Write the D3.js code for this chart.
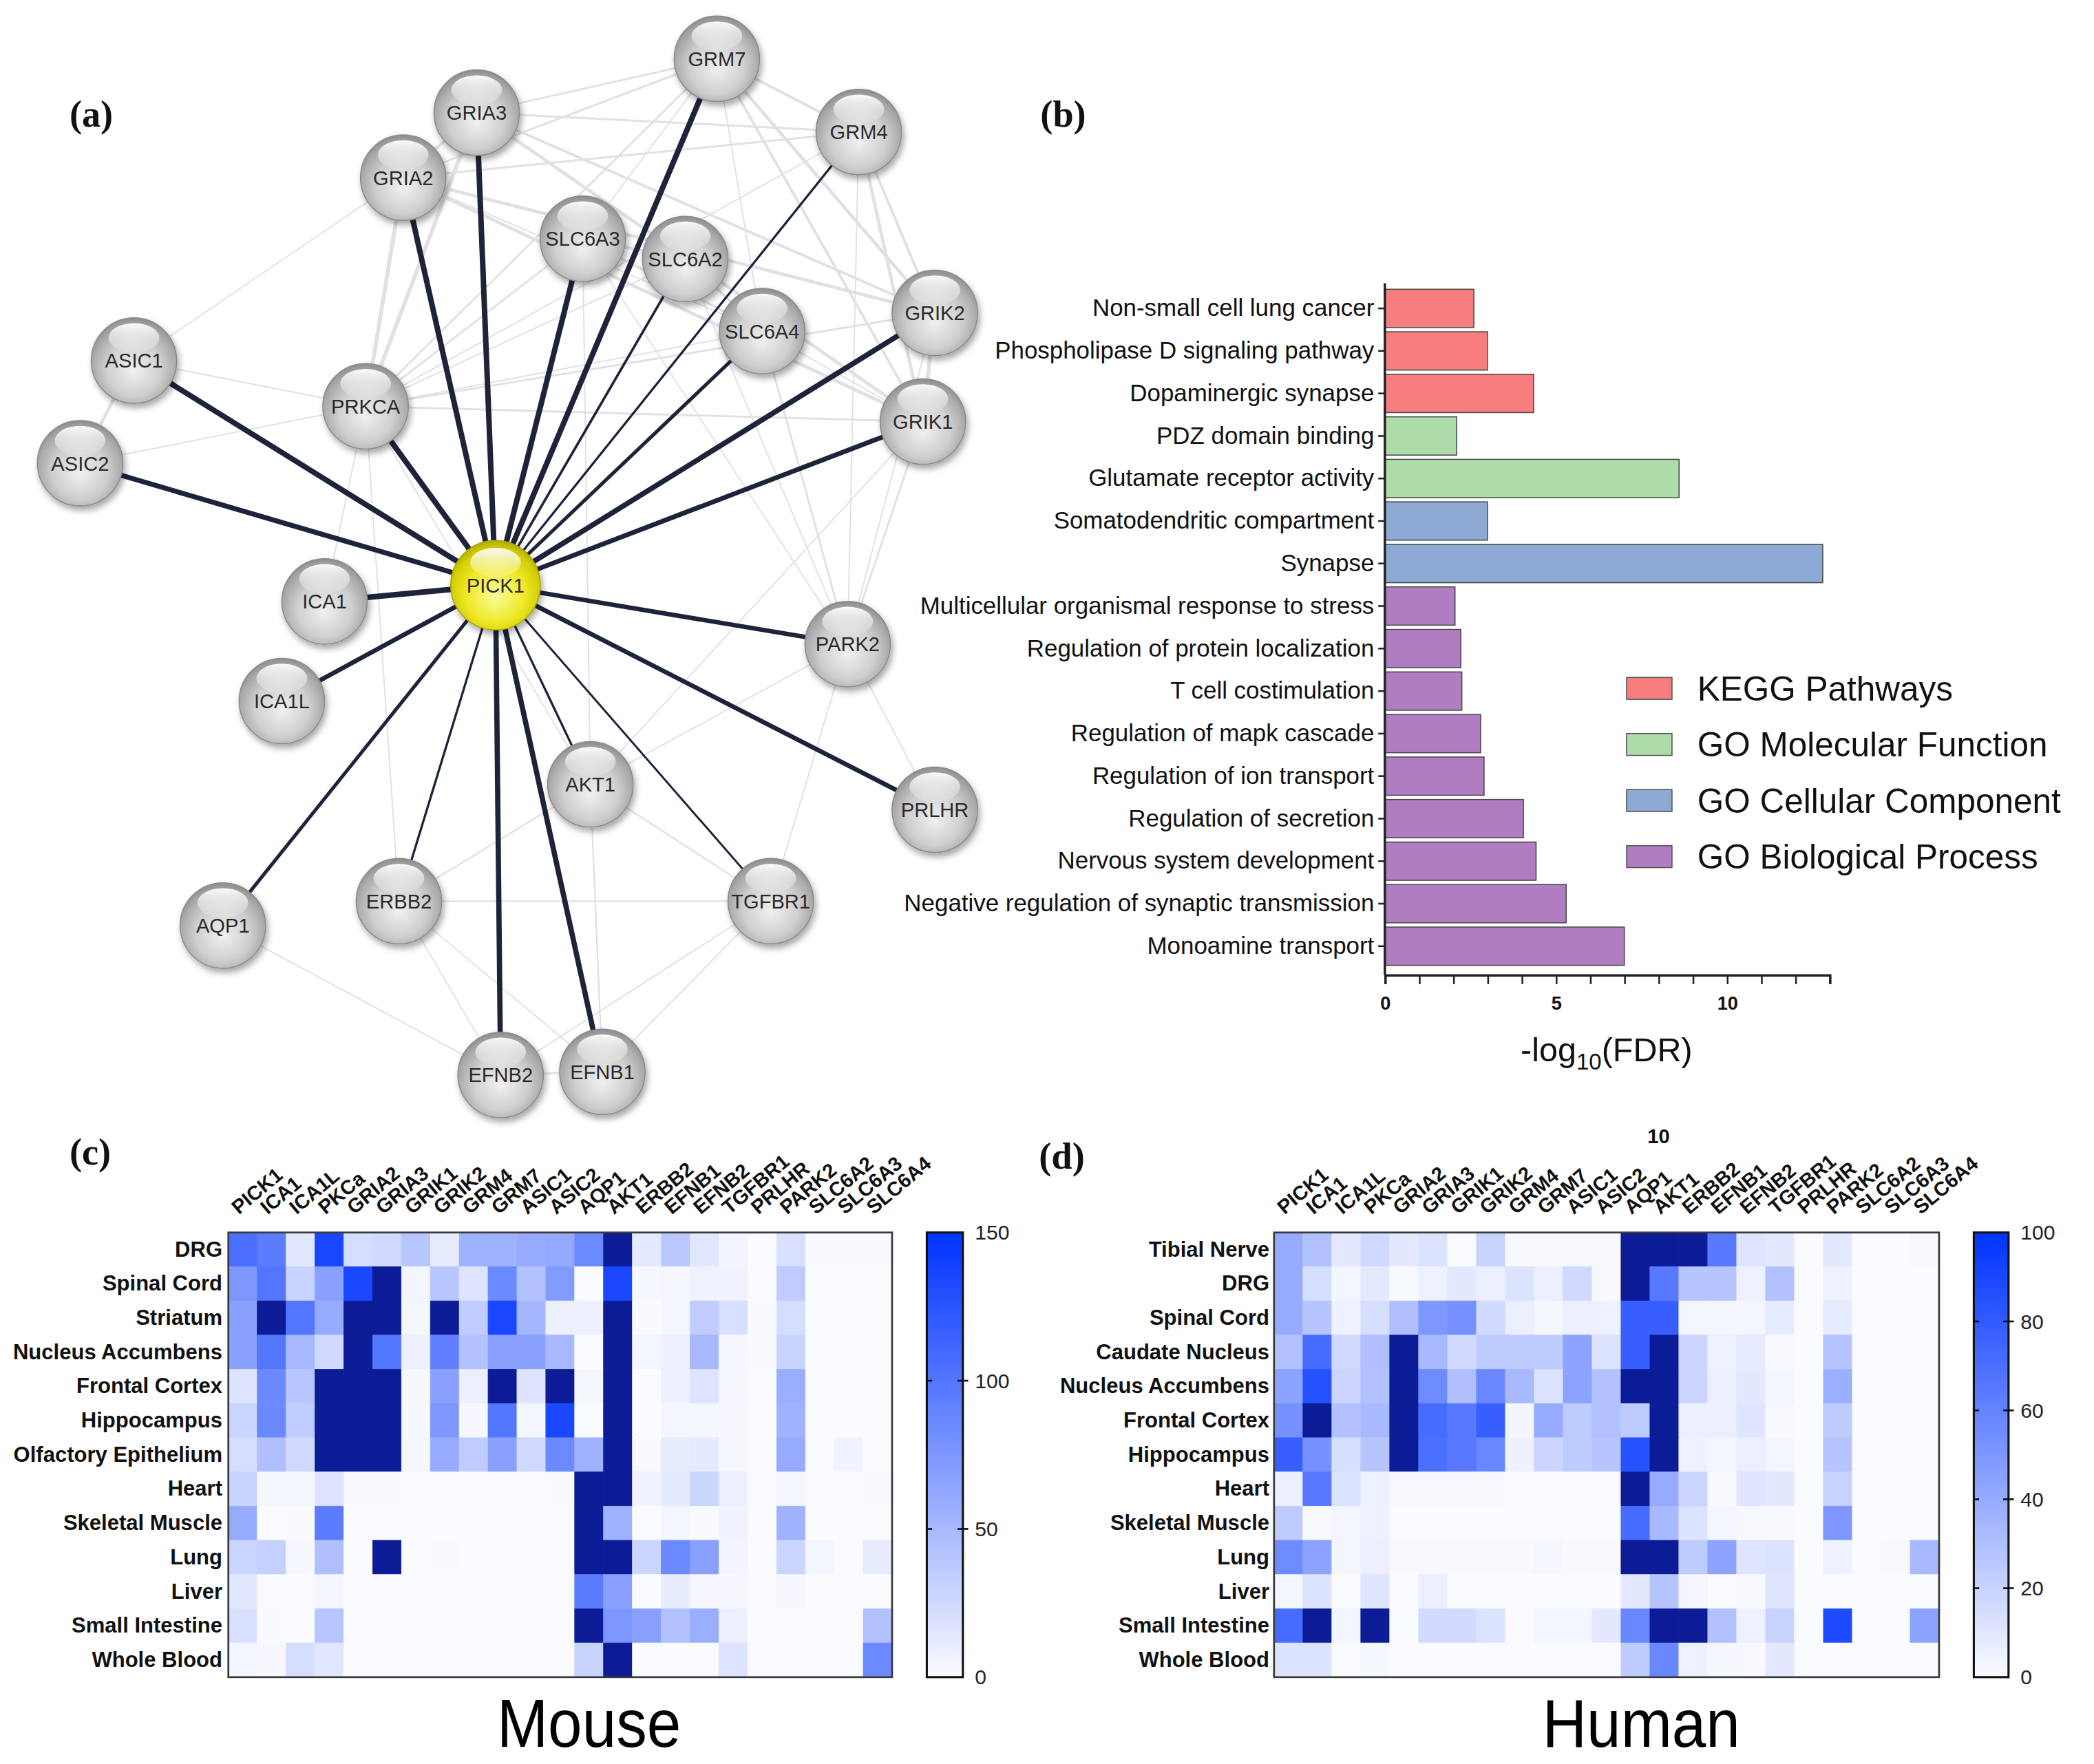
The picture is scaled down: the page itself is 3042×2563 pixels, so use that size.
<!DOCTYPE html>
<html>
<head>
<meta charset="utf-8">
<script src="https://cdn.jsdelivr.net/npm/d3@7"></script>
<style>
  body { margin: 0; background: #fff; }
  svg { display: block; }
</style>
</head>
<body>
<svg id="fig" width="3042" height="2563" viewBox="0 0 1568 1321"></svg>
<script>
// ---------- data ----------
// (a) network: node names and layout position (0-100 layout units)
var netNodes = ["GRM7","GRIA3","GRM4","GRIA2","SLC6A3","SLC6A2","GRIK2","SLC6A4","ASIC1","PRKCA","GRIK1","ASIC2",
                "PICK1","ICA1","PARK2","ICA1L","AKT1","PRLHR","ERBB2","TGFBR1","AQP1","EFNB2","EFNB1"];
var netX = [74.5,46.4,91.1,37.8,58.8,70.8,100,79.8,6.3,33.4,98.6,0,48.6,28.6,89.8,23.6,59.7,100,37.3,80.8,16.7,49.2,61.1];
var netY = [0,5.3,7.2,11.7,17.7,19.7,25.0,26.8,29.7,34.2,35.7,39.8,51.8,53.4,57.6,63.2,71.4,73.9,82.9,82.9,85.3,100,99.7];
// interaction score of PICK1 with each partner
var pickPartners = ["GRM7","GRIA3","GRM4","GRIA2","SLC6A3","SLC6A2","GRIK2","SLC6A4","ASIC1","PRKCA","GRIK1","ASIC2",
                    "ICA1","PARK2","ICA1L","AKT1","PRLHR","ERBB2","TGFBR1","AQP1","EFNB2","EFNB1"];
var pickScore = [0.95,0.95,0.3,0.95,0.95,0.35,0.9,0.55,0.95,0.95,0.8,0.85,0.95,0.75,0.75,0.3,0.75,0.3,0.25,0.55,0.9,0.9];
// other (background) interactions: [a, b, weight]
var bgEdges = [
  ["ASIC1","ASIC2",2.5],["ASIC1","PRKCA",1],["ASIC2","PRKCA",1],["ASIC1","GRIA2",1],
  ["GRIA2","GRIA3",2],["GRIA2","PRKCA",3],["GRIA3","PRKCA",3],["GRIA2","GRM7",1.5],["GRIA2","GRM4",1.5],
  ["GRIA2","GRIK2",2.5],["GRIA2","GRIK1",2.5],["GRIA2","SLC6A4",1],
  ["GRIA3","GRM7",1.5],["GRIA3","GRM4",1.5],["GRIA3","GRIK2",2],["GRIA3","GRIK1",2.5],
  ["GRM7","GRM4",2],["GRM7","GRIK2",2.5],["GRM7","GRIK1",2],["GRM7","SLC6A3",1],["GRM7","SLC6A4",1],["GRM7","PRKCA",1.5],
  ["GRM4","GRIK2",2],["GRM4","GRIK1",2.5],["GRM4","PARK2",1],["GRM4","PRKCA",1],
  ["GRIK2","GRIK1",3],["PRKCA","GRIK2",1.5],["PRKCA","GRIK1",1.5],["PRKCA","SLC6A3",1.5],["PRKCA","SLC6A2",1],["PRKCA","SLC6A4",1],
  ["SLC6A3","SLC6A2",2],["SLC6A3","SLC6A4",2],["SLC6A2","SLC6A4",2],["SLC6A3","PARK2",1],["SLC6A2","PARK2",1],
  ["SLC6A4","PARK2",1.5],["SLC6A4","GRIK1",1],
  ["GRIK1","PARK2",1.5],["GRIK2","PARK2",1],["PARK2","PRLHR",1],["PARK2","TGFBR1",1],["PARK2","AKT1",1],
  ["AKT1","PRKCA",1],["AKT1","SLC6A3",1],["AKT1","ERBB2",1.2],["AKT1","TGFBR1",1.2],["AKT1","EFNB1",1.2],["AKT1","GRIK1",1],
  ["ERBB2","TGFBR1",1.2],["ERBB2","EFNB1",1],["ERBB2","EFNB2",1],["TGFBR1","EFNB1",1],["TGFBR1","EFNB2",1],
  ["EFNB1","EFNB2",1.5],["AQP1","EFNB2",1],["PRKCA","ICA1",1],["ERBB2","PRKCA",1]
];

// (b) enrichment
var terms = ["Non-small cell lung cancer","Phospholipase D signaling pathway","Dopaminergic synapse","PDZ domain binding",
  "Glutamate receptor activity","Somatodendritic compartment","Synapse","Multicellular organismal response to stress",
  "Regulation of protein localization","T cell costimulation","Regulation of mapk cascade","Regulation of ion transport",
  "Regulation of secretion","Nervous system development","Negative regulation of synaptic transmission","Monoamine transport"];
var termScore = [2.6,3.0,4.35,2.1,8.6,3.0,12.8,2.05,2.22,2.25,2.8,2.9,4.05,4.42,5.3,7.0];
var termGroup = [0,0,0,1,1,2,2,3,3,3,3,3,3,3,3,3];
var groups = ["KEGG Pathways","GO Molecular Function","GO Cellular Component","GO Biological Process"];
var groupColor = ["#f87d7e","#aedcaa","#8daad5","#b07dc1"];
var fdrTicks = [0,5,10];

// (c)/(d) expression heatmaps
var heatGenes = ["PICK1","ICA1","ICA1L","PKCa","GRIA2","GRIA3","GRIK1","GRIK2","GRM4","GRM7","ASIC1","ASIC2",
                 "AQP1","AKT1","ERBB2","EFNB1","EFNB2","TGFBR1","PRLHR","PARK2","SLC6A2","SLC6A3","SLC6A4"];
var mouseTissues = ["DRG","Spinal Cord","Striatum","Nucleus Accumbens","Frontal Cortex","Hippocampus","Olfactory Epithelium",
                    "Heart","Skeletal Muscle","Lung","Liver","Small Intestine","Whole Blood"];
var mouseExpr = [
  [105,95,15,135,22,25,40,11,55,55,60,62,85,200,13,38,15,5,0,20,1,1,1],
  [75,100,30,68,135,200,4,40,17,85,43,72,0,135,2,3,6,6,0,35,0,0,0],
  [68,200,100,60,200,200,3,200,35,135,52,8,8,200,1,4,35,20,1,22,0,0,0],
  [68,100,50,25,200,100,8,92,43,68,68,50,0,200,4,8,50,2,1,30,0,0,0],
  [17,85,40,200,200,200,2,68,9,200,17,200,3,200,0,8,17,2,0,58,0,0,0],
  [28,85,35,200,200,200,2,75,2,100,4,135,0,200,0,4,3,2,0,55,0,0,0],
  [22,45,25,200,200,200,3,60,35,68,25,85,55,200,1,11,13,2,0,60,0,6,0],
  [30,3,3,17,1,1,0,0,0,0,0,1,200,200,6,13,28,9,0,4,0,0,1],
  [60,0,1,95,0,0,0,0,0,0,0,0,200,55,0,4,1,6,0,55,0,0,0],
  [28,32,2,45,0,200,0,1,0,0,0,0,200,200,28,85,68,5,0,28,4,0,11],
  [15,0,0,4,0,0,0,0,0,0,0,0,95,68,0,11,2,2,0,2,0,0,0],
  [20,1,0,40,0,0,0,0,0,0,0,0,200,75,68,43,58,8,0,0,0,0,43],
  [4,2,22,15,0,0,0,0,0,0,0,0,30,200,0,0,0,17,0,0,0,0,85]
];
var mouseTicks = [0,50,100,150];
var humanTissues = ["Tibial Nerve","DRG","Spinal Cord","Caudate Nucleus","Nucleus Accumbens","Frontal Cortex","Hippocampus",
                    "Heart","Skeletal Muscle","Lung","Liver","Small Intestine","Whole Blood"];
var humanExpr = [
  [40,29,9,17,9,12,0,20,1,1,1,1,130,130,130,65,11,9,0,9,0,0,1],
  [40,14,3,9,1,5,9,6,12,6,17,1,130,65,27,27,5,29,0,5,0,0,0],
  [40,27,5,14,30,50,53,17,6,2,6,5,78,78,3,3,3,8,0,8,0,0,0],
  [29,72,17,30,130,33,17,24,24,24,44,12,78,130,19,5,8,1,0,27,0,0,0],
  [44,85,19,29,130,56,30,58,33,12,44,29,130,130,19,6,9,3,0,38,0,0,0],
  [53,130,29,33,130,72,65,78,3,40,24,29,24,130,6,6,11,1,0,24,0,0,0],
  [78,53,14,27,130,70,65,58,5,19,24,27,85,130,5,3,6,3,0,27,0,0,0],
  [6,65,12,5,1,1,1,1,0,0,0,0,130,40,19,1,11,9,0,20,0,0,0],
  [24,1,3,5,0,0,0,0,0,0,0,0,72,33,12,3,1,1,0,50,0,0,0],
  [56,44,3,6,1,1,1,1,1,2,1,1,130,130,24,44,11,12,0,5,0,1,33],
  [3,12,0,11,0,6,0,0,0,0,0,0,9,27,3,0,1,11,0,0,0,0,0],
  [72,130,3,130,0,16,16,12,0,3,3,9,58,130,130,29,5,20,0,88,0,0,44],
  [12,12,0,2,0,0,0,0,0,0,0,0,24,58,5,2,1,9,0,0,0,0,0]
];
var humanTicks = [0,20,40,60,80,100];

// ---------- drawing ----------
var SANS = "'Liberation Sans', Arial, Helvetica, sans-serif";
var SERIF = "'Liberation Serif', 'Times New Roman', serif";
var svg = d3.select("#fig");
var defs = svg.append("defs");

// panel letters
[["(a)",52,95],["(b)",779,95],["(c)",52,872],["(d)",778,875]].forEach(function (p) {
  svg.append("text").text(p[0]).attr("x", p[1]).attr("y", p[2])
    .attr("font-family", SERIF).attr("font-weight", "bold").attr("font-size", 28).attr("fill", "#111");
});

// ===== (a) network =====
var shadow = defs.append("filter").attr("id", "shadow")
  .attr("x", "-40%").attr("y", "-40%").attr("width", "180%").attr("height", "180%");
shadow.append("feDropShadow").attr("dx", 1.5).attr("dy", 3).attr("stdDeviation", 2.5)
  .attr("flood-color", "#000").attr("flood-opacity", 0.35);

function sphereGrad(id, stops) {
  var g = defs.append("radialGradient").attr("id", id)
    .attr("cx", "50%").attr("cy", "58%").attr("r", "58%").attr("fx", "50%").attr("fy", "62%");
  stops.forEach(function (s) { g.append("stop").attr("offset", s[0]).attr("stop-color", s[1]); });
}
sphereGrad("gray", [[0, "#f0f0f0"], [0.55, "#cfcfcf"], [0.85, "#a9a9a9"], [1, "#8d8d8d"]]);
sphereGrad("yellow", [[0, "#fbfb9c"], [0.55, "#efe92a"], [0.85, "#d4ce06"], [1, "#b0aa00"]]);
var hl = defs.append("linearGradient").attr("id", "hl").attr("x1", 0).attr("y1", 0).attr("x2", 0).attr("y2", 1);
hl.append("stop").attr("offset", 0).attr("stop-color", "#fff").attr("stop-opacity", 0.95);
hl.append("stop").attr("offset", 1).attr("stop-color", "#fff").attr("stop-opacity", 0.1);

var nx = d3.scaleLinear().domain([0, 100]).range([60, 700]);
var ny = d3.scaleLinear().domain([0, 100]).range([44, 805]);
var nodePos = {};
netNodes.forEach(function (n, i) { nodePos[n] = [nx(netX[i]), ny(netY[i])]; });
var edgeW = d3.scaleLinear().domain([0, 1]).range([0.6, 4.3]);

var gNet = svg.append("g");
gNet.selectAll("line.bg").data(bgEdges).enter().append("line")
  .attr("x1", function (d) { return nodePos[d[0]][0]; }).attr("y1", function (d) { return nodePos[d[0]][1]; })
  .attr("x2", function (d) { return nodePos[d[1]][0]; }).attr("y2", function (d) { return nodePos[d[1]][1]; })
  .attr("stroke", "#e1e1e5").attr("stroke-width", function (d) { return d[2]; });
gNet.selectAll("line.pk").data(pickPartners).enter().append("line")
  .attr("x1", nodePos.PICK1[0]).attr("y1", nodePos.PICK1[1])
  .attr("x2", function (d) { return nodePos[d][0]; }).attr("y2", function (d) { return nodePos[d][1]; })
  .attr("stroke", "#1d2339").attr("stroke-width", function (d, i) { return edgeW(pickScore[i]); });

var node = gNet.selectAll("g.node").data(netNodes).enter().append("g")
  .attr("transform", function (d) { return "translate(" + nodePos[d][0] + "," + nodePos[d][1] + ")"; });
node.append("circle").attr("r", function (d) { return d === "PICK1" ? 33.5 : 32; })
  .attr("fill", function (d) { return d === "PICK1" ? "url(#yellow)" : "url(#gray)"; })
  .attr("stroke", function (d) { return d === "PICK1" ? "#a8a200" : "#8a8a8a"; }).attr("stroke-width", 0.8)
  .attr("filter", "url(#shadow)");
node.append("ellipse").attr("cx", 0).attr("cy", -17).attr("rx", 19).attr("ry", 11).attr("fill", "url(#hl)");
node.append("text").text(function (d) { return d; })
  .attr("text-anchor", "middle").attr("dy", "0.36em")
  .attr("font-family", SANS).attr("font-size", 15).attr("fill", "#2a2a2a");

// ===== (b) enrichment bar chart =====
var bx = d3.scaleLinear().domain([0, 13]).range([1037, 1370]);
var by = d3.scaleBand().domain(terms).range([215, 724.5]).paddingInner(0.1).paddingOuter(0.05);
var gBar = svg.append("g");
gBar.selectAll("rect").data(terms).enter().append("rect")
  .attr("x", bx(0)).attr("y", function (d) { return by(d); })
  .attr("width", function (d, i) { return bx(termScore[i]) - bx(0); })
  .attr("height", by.bandwidth())
  .attr("fill", function (d, i) { return groupColor[termGroup[i]]; })
  .attr("stroke", "#4a4a4a").attr("stroke-width", 0.8);

var axisY = 730;
var yAx = gBar.append("g").attr("transform", "translate(" + bx(0) + ",0)")
  .call(d3.axisLeft(by).tickSize(5).tickPadding(3));
yAx.select(".domain").remove();
yAx.selectAll("text").attr("font-family", SANS).attr("font-size", 18).attr("fill", "#111");
yAx.selectAll("line").attr("stroke", "#222").attr("stroke-width", 1.3);
gBar.append("line").attr("x1", bx(0)).attr("x2", bx(0)).attr("y1", 212).attr("y2", axisY)
  .attr("stroke", "#222").attr("stroke-width", 1.8);

var xAx = gBar.append("g").attr("transform", "translate(0," + axisY + ")")
  .call(d3.axisBottom(bx).tickValues(d3.range(0, 14)).tickSize(7).tickPadding(9)
    .tickFormat(function (d) { return fdrTicks.indexOf(d) >= 0 ? d : ""; }));
xAx.select(".domain").attr("stroke", "#222").attr("stroke-width", 1.8);
xAx.selectAll("line").attr("stroke", "#222").attr("stroke-width", 1.3);
xAx.selectAll("text").attr("font-family", SANS).attr("font-weight", "bold").attr("font-size", 14).attr("fill", "#111");

var xt = gBar.append("text").attr("x", 1203).attr("y", 795).attr("text-anchor", "middle")
  .attr("font-family", SANS).attr("font-size", 25).attr("fill", "#111");
xt.append("tspan").text("-log");
xt.append("tspan").text("10").attr("font-size", 17).attr("dy", 6);
xt.append("tspan").text("(FDR)").attr("dy", -6);

var leg = gBar.selectAll("g.leg").data(groups).enter().append("g")
  .attr("transform", function (d, i) { return "translate(1218," + (515.5 + i * 42) + ")"; });
leg.append("rect").attr("x", 0).attr("y", -8.2).attr("width", 34).attr("height", 16.4)
  .attr("fill", function (d, i) { return groupColor[i]; }).attr("stroke", "#555").attr("stroke-width", 0.8);
leg.append("text").text(function (d) { return d; }).attr("x", 53).attr("dy", "0.36em")
  .attr("font-family", SANS).attr("font-size", 25.5).attr("fill", "#111");

// ===== (c), (d) heatmaps =====
var OVER = "#0b1c96";
function heatmap(cfg) {
  var g = svg.append("g");
  var hx = d3.scaleBand().domain(heatGenes).range([cfg.x0, cfg.x1]);
  var hy = d3.scaleBand().domain(cfg.rows).range([cfg.y0, cfg.y1]);
  var col = d3.scaleLinear().domain([0, cfg.max]).range(["#fafbff", "#0033ff"]).clamp(true);
  var fill = function (v) { return v > cfg.max ? OVER : col(v); };

  cfg.data.forEach(function (row, r) {
    g.selectAll(null).data(row).enter().append("rect")
      .attr("x", function (d, c) { return hx(heatGenes[c]); })
      .attr("y", hy(cfg.rows[r]))
      .attr("width", hx.bandwidth()).attr("height", hy.bandwidth())
      .attr("fill", fill).attr("stroke", fill).attr("stroke-width", 0.4);
  });
  g.append("rect").attr("x", cfg.x0).attr("y", cfg.y0)
    .attr("width", cfg.x1 - cfg.x0).attr("height", cfg.y1 - cfg.y0)
    .attr("fill", "none").attr("stroke", "#3a3a3a").attr("stroke-width", 1.4);

  // row labels
  var ra = g.append("g").attr("transform", "translate(" + cfg.x0 + ",0)")
    .call(d3.axisLeft(hy).tickSize(0).tickPadding(cfg.pad));
  ra.select(".domain").remove();
  ra.selectAll("text").attr("font-family", SANS).attr("font-weight", "bold").attr("font-size", 16).attr("fill", "#111");

  // angled column labels
  g.selectAll("text.cl").data(heatGenes).enter().append("text")
    .attr("transform", function (d) {
      return "translate(" + (hx(d) + hx.bandwidth() / 2 - 3) + "," + (cfg.y0 - 13) + ") rotate(-40)";
    })
    .text(function (d) { return d; })
    .attr("font-family", SANS).attr("font-weight", "bold").attr("font-size", 15).attr("fill", "#111");

  // colour bar
  var gid = "cb" + cfg.id;
  var lg = defs.append("linearGradient").attr("id", gid).attr("x1", 0).attr("y1", 1).attr("x2", 0).attr("y2", 0);
  lg.append("stop").attr("offset", 0).attr("stop-color", col(0));
  lg.append("stop").attr("offset", 1).attr("stop-color", col(cfg.max));
  var cy = d3.scaleLinear().domain([0, cfg.max]).range([cfg.y1, cfg.y0]);
  g.append("rect").attr("x", cfg.cb0).attr("y", cfg.y0).attr("width", cfg.cb1 - cfg.cb0).attr("height", cfg.y1 - cfg.y0)
    .attr("fill", "url(#" + gid + ")").attr("stroke", "#111").attr("stroke-width", 1.6);
  var ca = g.append("g").attr("transform", "translate(" + cfg.cb1 + ",0)")
    .call(d3.axisRight(cy).tickValues(cfg.ticks).tickSize(0).tickPadding(9));
  ca.select(".domain").remove();
  ca.selectAll("text").attr("font-family", SANS).attr("font-size", 15.5).attr("fill", "#222");
  var inner = cfg.ticks.filter(function (t) { return t > 0 && t < cfg.max; });
  g.selectAll("line.ct").data(inner).enter().append("line")
    .attr("x1", cfg.cb1 - 4).attr("x2", cfg.cb1 + 4)
    .attr("y1", cy).attr("y2", cy).attr("stroke", "#111").attr("stroke-width", 1.4);
  g.selectAll("line.cl").data(inner).enter().append("line")
    .attr("x1", cfg.cb0).attr("x2", cfg.cb0 + 4)
    .attr("y1", cy).attr("y2", cy).attr("stroke", "#111").attr("stroke-width", 1.4);

  // species title
  g.append("text").text(cfg.title).attr("transform", "translate(" + cfg.tx + ",1308) scale(0.9,1)")
    .attr("text-anchor", "middle").attr("font-family", SANS).attr("font-size", 51).attr("fill", "#000");
}

heatmap({ id: "m", rows: mouseTissues, data: mouseExpr, max: 150, ticks: mouseTicks,
  x0: 171, x1: 668, y0: 923, y1: 1256, pad: 4.5, cb0: 694, cb1: 721, title: "Mouse", tx: 441 });
heatmap({ id: "h", rows: humanTissues, data: humanExpr, max: 100, ticks: humanTicks,
  x0: 954, x1: 1452, y0: 923, y1: 1256, pad: 3.5, cb0: 1478, cb1: 1504, title: "Human", tx: 1229 });

// stray page number from the source figure
svg.append("text").text("10").attr("x", 1242).attr("y", 856).attr("text-anchor", "middle")
  .attr("font-family", SANS).attr("font-weight", "bold").attr("font-size", 15).attr("fill", "#111");
</script>
</body>
</html>
